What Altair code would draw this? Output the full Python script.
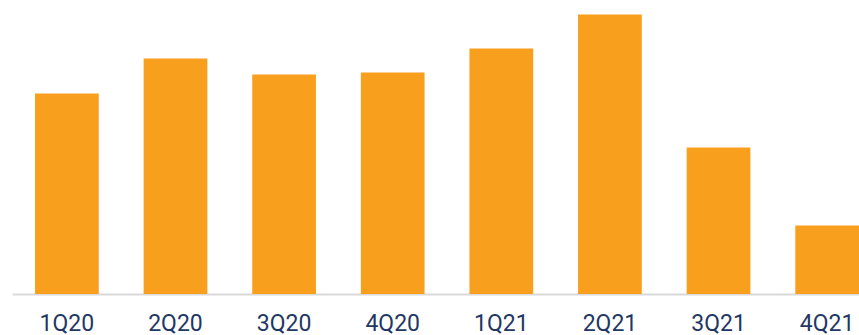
import altair as alt
import pandas as pd

quarters = ["1Q20", "2Q20", "3Q20", "4Q20", "1Q21", "2Q21", "3Q21", "4Q21"]
values = [200.5, 235.5, 219.5, 221.5, 245.5, 279.5, 146.5, 68.5]

df = pd.DataFrame({"quarter": quarters, "value": values})

chart = alt.Chart(df).mark_bar(color="#F99F1E").encode(
    x=alt.X(
        "quarter:N",
        sort=quarters,
        scale=alt.Scale(paddingInner=0.4134, paddingOuter=0.106, align=1),
        axis=alt.Axis(
            title=None,
            ticks=False,
            labelAngle=0,
            labelFont="Roboto",
            labelFontSize=23,
            labelColor="#1F3864",
            labelPadding=18,
            domainColor="#D9D9D9",
            domainWidth=2,
            grid=False,
        ),
    ),
    y=alt.Y(
        "value:Q",
        scale=alt.Scale(domain=[0, 294], nice=False),
        axis=None,
    ),
).properties(
    width=847,
    height=294,
    background="white",
    padding={"left": 12, "right": 0, "top": 0, "bottom": 0},
).configure_view(stroke=None)

chart.save("out.html", embed_options={"renderer": "svg", "actions": False})
